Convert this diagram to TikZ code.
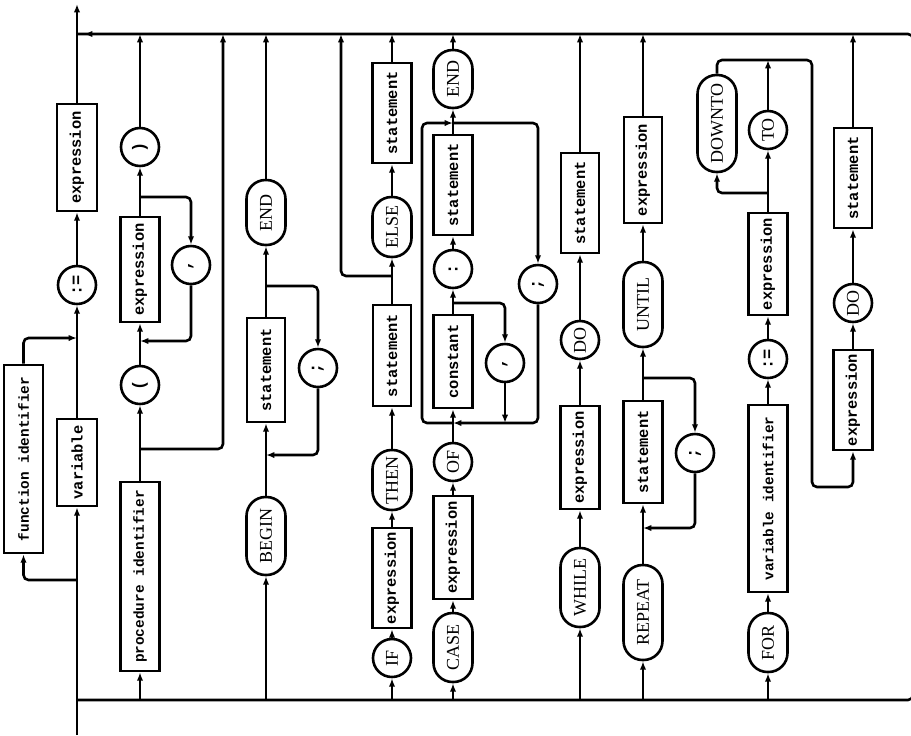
\documentclass[tikz,border=0pt]{standalone}
\usepackage{fontspec}
\usetikzlibrary{arrows.meta,calc}
\newfontfamily\monofam{Liberation Mono}
\newfontfamily\seriffam{Liberation Serif}
\newcommand\ntf{\monofam\bfseries\fontsize{7.7}{8}\selectfont}
\newcommand\idf{\monofam\bfseries\fontsize{7.2}{8}\selectfont}
\newcommand\kwf{\seriffam\fontsize{9}{10}\selectfont}
\newcommand\symf{\monofam\bfseries\fontsize{8.5}{9}\selectfont}
\newcommand\rotup[1]{\rotatebox{90}{#1}}
\tikzset{
  ln/.style={line width=1.3pt},
  arr/.style={ln, -{Latex[length=4.2pt,width=3.2pt]}},
  rc/.style={rounded corners=2.5pt},
  ntbox/.style 2 args={draw, ln, inner sep=0pt, minimum width=#1*0.5pt, minimum height=#2*0.5pt, font=\ntf},
  idbox/.style 2 args={ntbox={#1}{#2}, font=\idf},
  kwbox/.style={draw, ln, inner sep=0pt, rounded corners=9.5pt, minimum width=19.5pt, minimum height=#1*0.5pt, font=\kwf},
  kwcirc/.style={draw, ln, circle, inner sep=0pt, minimum size=19pt, font=\kwf},
  symcirc/.style={draw, ln, circle, inner sep=0pt, minimum size=19pt, font=\symf},
}
\begin{document}
\begin{tikzpicture}[x=0.5pt, y=-0.5pt]
\useasboundingbox (0,0) rectangle (911,735);

% heading, running off the left edge
\node[anchor=east, inner sep=0pt, font=\seriffam\bfseries\fontsize{10}{10}\selectfont] (title) at (-3.5,679) {\rotup{statement}};

% frame: entry, exit and the empty-statement path
\coordinate (entry) at (77,735);
\coordinate (exit) at (77,4);
\coordinate (bl) at (77,700);
\coordinate (br) at (913,700);
\coordinate (tr) at (913,34);
\coordinate (tl) at (77,34);
\draw[ln, rc] (bl) -- (br) -- (tr) -- (tl);
\draw[arr] ($(tl)+(22,0)$) -- ($(tl)+(7,0)$);

% assignment
\node[idbox={39}{188}] (fid) at (23.5,459) {\rotup{function identifier}};
\node[ntbox={40}{87}] (var) at (77,462.5) {\rotup{variable}};
\node[symcirc] (asg) at (77,285) {\rotup{:=}};
\node[ntbox={40}{107}] (ex1) at (77,157.5) {\rotup{expression}};
\coordinate (bf) at (77,580);
\coordinate (mf) at (77,338);
\draw[arr] (entry) -- (var.south);
\draw[arr, rc] (bf) -| (fid.south);
\draw[arr, rc] (fid.north) |- (mf);
\draw[arr] (var.north) -- (asg.south);
\draw[arr] (asg.north) -- (ex1.south);
\draw[arr] (ex1.north) -- (exit);

% procedure call
\node[idbox={39}{189}] (pid) at (140,576.5) {\rotup{procedure identifier}};
\node[symcirc] (lp) at (140,385) {\rotup{(}};
\node[ntbox={39}{105}] (ex2) at (140,269.5) {\rotup{expression}};
\node[symcirc] (cm1) at (191,265) {\rotup{,}};
\node[symcirc] (rp) at (140,147) {\rotup{)}};
\coordinate (bp) at (140,449);
\coordinate (pby) at (223,34);
\coordinate (b2) at (140,197);
\coordinate (m2) at (140,341);
\draw[arr] (bl -| pid) -- (pid.south);
\draw[arr] (pid.north) -- (lp.south);
\draw[arr, rc] (bp) -| (pby);
\draw[arr] (lp.north) -- (ex2.south);
\draw[arr] (ex2.north) -- (rp.south);
\draw[arr, rc] (b2) -| (cm1.north);
\draw[arr, rc] (cm1.south) |- (m2);
\draw[arr] (rp.north) -- (rp.north |- tl);

% compound statement
\node[kwbox=78] (begin) at (266,536) {\rotup{BEGIN}};
\node[ntbox={38}{104}] (st1) at (266,370) {\rotup{statement}};
\node[symcirc] (sc1) at (318,368) {\rotup{;}};
\node[kwbox=65] (end1) at (266,212.5) {\rotup{END}};
\coordinate (b3) at (266,286);
\coordinate (m3) at (266,455);
\draw[arr] (bl -| begin) -- (begin.south);
\draw[arr] (begin.north) -- (st1.south);
\draw[arr] (st1.north) -- (end1.south);
\draw[arr, rc] (b3) -| (sc1.north);
\draw[arr, rc] (sc1.south) |- (m3);
\draw[arr] (end1.north) -- (end1.north |- tl);

% if statement
\node[kwcirc] (if) at (392,658) {\rotup{IF}};
\node[ntbox={39}{100}] (ex3) at (392,578) {\rotup{expression}};
\node[kwbox=60] (then) at (392,480) {\rotup{THEN}};
\node[ntbox={38}{101}] (st2) at (392,355.5) {\rotup{statement}};
\node[kwbox=60] (else) at (392,227) {\rotup{ELSE}};
\node[ntbox={39}{100}] (st3) at (392,113) {\rotup{statement}};
\coordinate (bi) at (392,276);
\coordinate (iby) at (341,34);
\draw[arr] (bl -| if) -- (if.south);
\draw[arr] (if.north) -- (ex3.south);
\draw[arr] (ex3.north) -- (then.south);
\draw[arr] (then.north) -- (st2.south);
\draw[arr] (st2.north) -- (else.south);
\draw[arr, rc] (bi) -| (iby);
\draw[arr] (else.north) -- (st3.south);
\draw[arr] (st3.north) -- (st3.north |- tl);

% case statement
\node[kwbox=69] (case) at (453,647.5) {\rotup{CASE}};
\node[ntbox={39}{103}] (ex4) at (453,547.5) {\rotup{expression}};
\node[kwcirc] (of) at (453,462) {\rotup{OF}};
\node[ntbox={39}{93}] (const) at (453,361.5) {\rotup{constant}};
\node[symcirc] (cm2) at (505,363) {\rotup{,}};
\node[symcirc] (colon) at (453,269) {\rotup{:}};
\node[ntbox={39}{100}] (st4) at (453,185) {\rotup{statement}};
\node[symcirc] (sc2) at (538,284) {\rotup{;}};
\node[kwbox=58] (end2) at (453,79) {\rotup{END}};
\coordinate (m4) at (453,423);
\coordinate (b4) at (453,303);
\coordinate (t4) at (453,123);
\coordinate (l4) at (422,123);
\draw[arr] (bl -| case) -- (case.south);
\draw[arr] (case.north) -- (ex4.south);
\draw[arr] (ex4.north) -- (of.south);
\draw[arr] (of.north) -- (const.south);
\draw[arr] (const.north) -- (colon.south);
\draw[arr] (colon.north) -- (st4.south);
\draw[arr] (st4.north) -- (end2.south);
\draw[arr] (end2.north) -- (end2.north |- tl);
\draw[arr, rc] (b4) -| (cm2.north);
\draw[arr] (cm2.south) -- (cm2.south |- m4);
\draw[arr, rc] (t4) -| (sc2.north);
\draw[arr, rc] (sc2.south) |- (m4);
\draw[arr, rc] (m4) -| (l4) -- (t4);

% while statement
\node[kwbox=79] (while) at (580,587.5) {\rotup{WHILE}};
\node[ntbox={39}{103}] (ex5) at (580,457.5) {\rotup{expression}};
\node[kwcirc] (do1) at (580,340) {\rotup{DO}};
\node[ntbox={38}{100}] (st5) at (580,203) {\rotup{statement}};
\draw[arr] (bl -| while) -- (while.south);
\draw[arr] (while.north) -- (ex5.south);
\draw[arr] (ex5.north) -- (do1.south);
\draw[arr] (do1.north) -- (st5.south);
\draw[arr] (st5.north) -- (st5.north |- tl);

% repeat statement
\node[kwbox=95] (repeat) at (643,612.5) {\rotup{REPEAT}};
\node[ntbox={39}{102}] (st6) at (643,452) {\rotup{statement}};
\node[symcirc] (sc3) at (695,453) {\rotup{;}};
\node[kwbox=85] (until) at (643,304.5) {\rotup{UNTIL}};
\node[ntbox={38}{106}] (ex6) at (643,170) {\rotup{expression}};
\coordinate (m6) at (643,528);
\coordinate (b6) at (643,378);
\draw[arr] (bl -| repeat) -- (repeat.south);
\draw[arr] (repeat.north) -- (st6.south);
\draw[arr] (st6.north) -- (until.south);
\draw[arr, rc] (b6) -| (sc3.north);
\draw[arr, rc] (sc3.south) |- (m6);
\draw[arr] (until.north) -- (ex6.south);
\draw[arr] (ex6.north) -- (ex6.north |- tl);

% for statement
\node[kwbox=59] (for) at (768,642.5) {\rotup{FOR}};
\node[idbox={39}{187}] (vid) at (768,498.5) {\rotup{variable identifier}};
\node[symcirc] (asg2) at (768,359) {\rotup{:=}};
\node[ntbox={39}{102}] (ex7) at (768,264) {\rotup{expression}};
\node[kwcirc] (to) at (768,130) {\rotup{TO}};
\node[kwbox=97] (downto) at (717,123.5) {\rotup{DOWNTO}};
\node[ntbox={39}{100}] (ex8) at (853,400) {\rotup{expression}};
\node[kwcirc] (do2) at (853,303) {\rotup{DO}};
\node[ntbox={38}{100}] (st7) at (853,178) {\rotup{statement}};
\coordinate (b7) at (768,193);
\coordinate (m7) at (768,60);
\coordinate (r7) at (812,60);
\coordinate (d7) at (812,487);
\draw[arr] (bl -| for) -- (for.south);
\draw[arr] (for.north) -- (vid.south);
\draw[arr] (vid.north) -- (asg2.south);
\draw[arr] (asg2.north) -- (ex7.south);
\draw[arr] (ex7.north) -- (to.south);
\draw[arr, rc] (b7) -| (downto.south);
\draw[arr] (to.north) -- (m7);
\draw[arr, rc] (downto.north) |- (r7) -- (d7) -| (ex8.south);
\draw[arr] (ex8.north) -- (do2.south);
\draw[arr] (do2.north) -- (st7.south);
\draw[arr] (st7.north) -- (st7.north |- tl);
\end{tikzpicture}
\end{document}
